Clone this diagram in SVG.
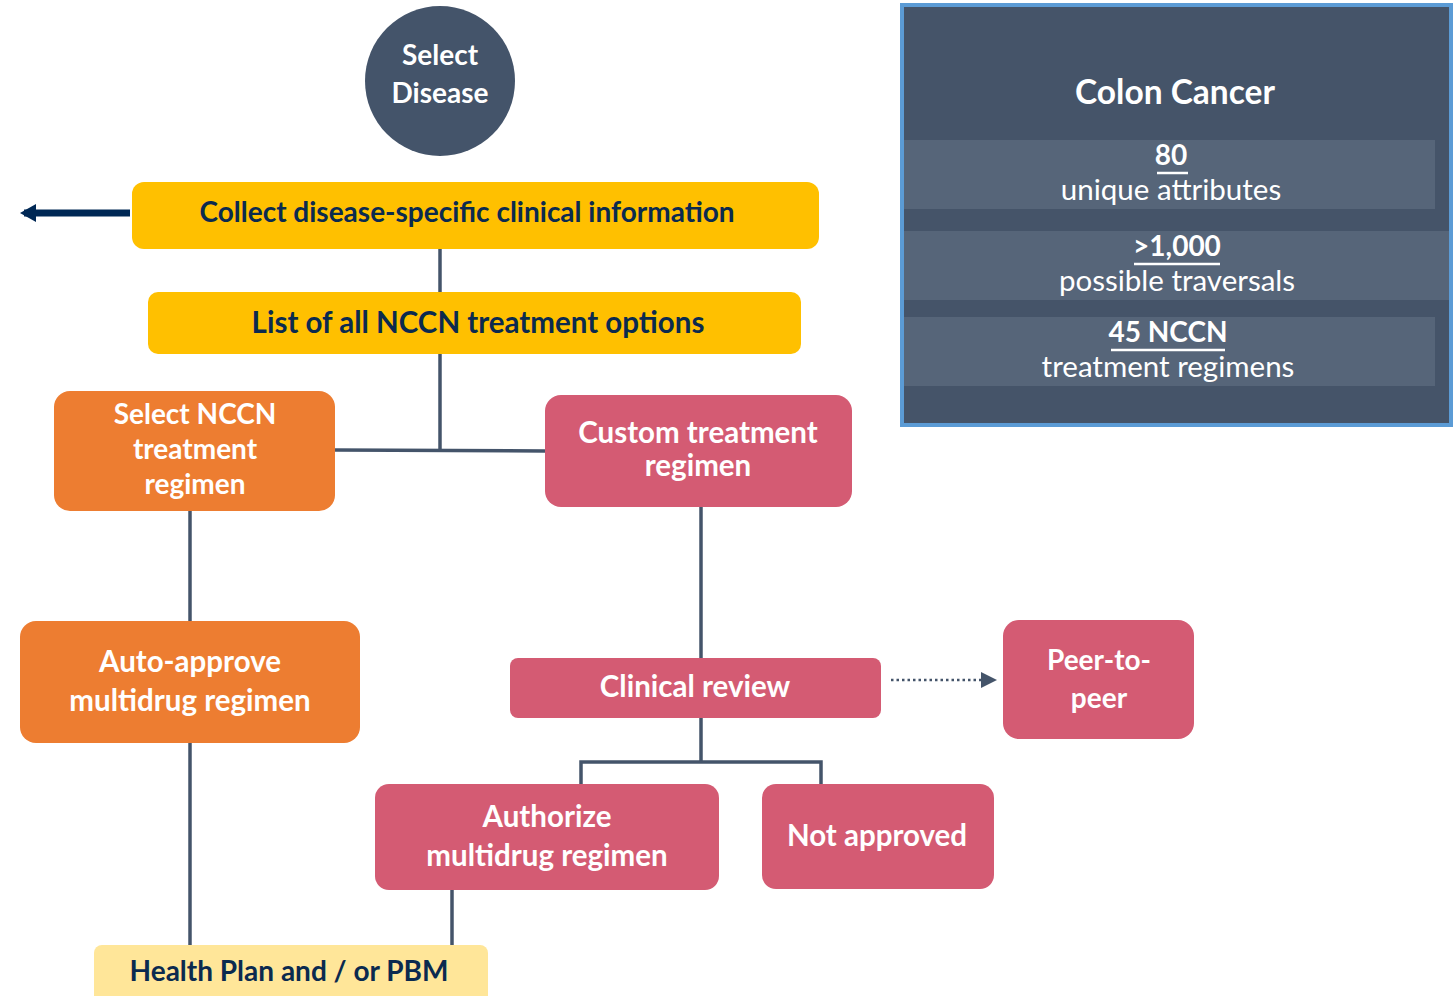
<svg xmlns="http://www.w3.org/2000/svg" width="1453" height="996" viewBox="0 0 1453 996">
<defs>
<style>
text{font-family:Lato,"Liberation Sans",sans-serif;text-anchor:middle}
.b{font-weight:bold;font-size:28px}
.b2{font-weight:bold;font-size:29.5px}
.w{fill:#ffffff}
.n{fill:#0b2a4f}
.conn{stroke:#44546a;stroke-width:3.5;fill:none}
.yel{fill:#FFC000}
.org{fill:#ED7D31}
.pnk{fill:#D45B73}
.band{fill:#566579}
.r{font-size:29.5px}
</style>
</defs>
<rect width="1453" height="996" fill="#ffffff"/>

<g id="connectors">
<path class="conn" d="M440,249 V292"/>
<path class="conn" d="M440,354 V450"/>
<path class="conn" d="M335,450 L545,451"/>
<path class="conn" d="M190,511 V621"/>
<path class="conn" d="M190,743 V945"/>
<path class="conn" d="M701,507 V658"/>
<path class="conn" d="M701,718 V762 M581,784 V762 H821 V784"/>
<path class="conn" d="M452,890 V945"/>
<path d="M130,213 H24" stroke="#002855" stroke-width="7" fill="none"/>
<path d="M36,204 L20,213 L36,222 z" fill="#002855"/>
<path d="M891,680 H984" stroke="#44546a" stroke-width="2.5" stroke-dasharray="2.5,3" fill="none"/>
<path d="M981,672 L997,680 L981,688 z" fill="#44546a"/>
</g>

<g id="select-disease">
<circle cx="440" cy="81" r="75" fill="#44546a"/>
<text class="b w" x="440" y="65">Select</text>
<text class="b w" x="440" y="103">Disease</text>
</g>

<g id="collect">
<rect class="yel" x="132" y="182" width="687" height="67" rx="12"/>
<text class="b n" x="467" y="222">Collect disease-specific clinical information</text>
</g>

<g id="list">
<rect class="yel" x="148" y="292" width="653" height="62" rx="10"/>
<text class="b2 n" x="478" y="333">List of all NCCN treatment options</text>
</g>

<g id="select-nccn">
<rect class="org" x="54" y="391" width="281" height="120" rx="16"/>
<text class="b w" x="195" y="424">Select NCCN</text>
<text class="b w" x="195" y="459">treatment</text>
<text class="b w" x="195" y="494">regimen</text>
</g>

<g id="custom">
<rect class="pnk" x="545" y="395" width="307" height="112" rx="16"/>
<text class="b2 w" x="698" y="443">Custom treatment</text>
<text class="b2 w" x="698" y="476">regimen</text>
</g>

<g id="auto-approve">
<rect class="org" x="20" y="621" width="340" height="122" rx="16"/>
<text class="b2 w" x="190" y="672">Auto-approve</text>
<text class="b2 w" x="190" y="711">multidrug regimen</text>
</g>

<g id="clinical-review">
<rect class="pnk" x="510" y="658" width="371" height="60" rx="8"/>
<text class="b2 w" x="695" y="697">Clinical review</text>
</g>

<g id="peer">
<rect class="pnk" x="1003" y="620" width="191" height="119" rx="16"/>
<text class="b w" x="1099" y="670">Peer-to-</text>
<text class="b w" x="1099" y="708">peer</text>
</g>

<g id="authorize">
<rect class="pnk" x="375" y="784" width="344" height="106" rx="14"/>
<text class="b2 w" x="547" y="827">Authorize</text>
<text class="b2 w" x="547" y="866">multidrug regimen</text>
</g>

<g id="not-approved">
<rect class="pnk" x="762" y="784" width="232" height="105" rx="14"/>
<text class="b2 w" x="877" y="846">Not approved</text>
</g>

<g id="health-plan">
<rect x="94" y="945" width="394" height="60" rx="8" fill="#FFE699"/>
<text class="b n" x="289" y="981" font-size="27">Health Plan and / or PBM</text>
</g>

<g id="colon-panel">
<rect x="902" y="5" width="549" height="420" fill="#455469" stroke="#5B9BD5" stroke-width="4"/>
<rect class="band" x="904" y="140" width="531" height="69"/>
<rect class="band" x="904" y="231" width="545" height="69"/>
<rect class="band" x="904" y="317" width="531" height="69"/>
<text class="w" x="1175" y="104" font-weight="bold" font-size="33.5">Colon Cancer</text>
<text class="b w" x="1171" y="165">80</text>
<path d="M1157,173 H1188" stroke="#fff" stroke-width="2.5"/>
<text class="w r" x="1171" y="200">unique attributes</text>
<text class="b w" x="1177" y="256">&gt;1,000</text>
<path d="M1134,264 H1220" stroke="#fff" stroke-width="2.5"/>
<text class="w r" x="1177" y="291">possible traversals</text>
<text class="b w" x="1168" y="342">45 NCCN</text>
<path d="M1111,350 H1225" stroke="#fff" stroke-width="2.5"/>
<text class="w r" x="1168" y="377">treatment regimens</text>
</g>
</svg>
